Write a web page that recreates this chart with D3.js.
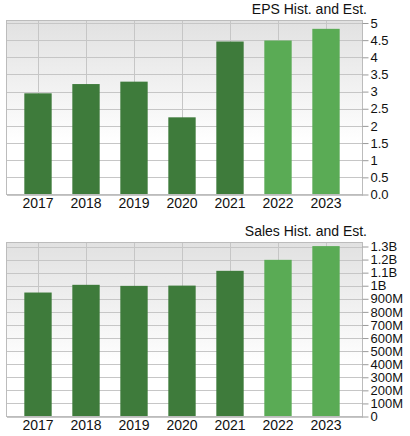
<!DOCTYPE html>
<html lang="en">
<head>
<meta charset="UTF-8">
<title>EPS and Sales Hist. and Est.</title>
<script src="https://d3js.org/d3.v7.min.js"></script>
<style>
    body { margin: 0; background: #fff; }
    text { font-family: "Liberation Sans", Arial, sans-serif; fill: #111; }
    .grid line { stroke: #c6c6c6; stroke-width: 1; shape-rendering: crispEdges; }
</style>
</head>
<body>
<div id="chart"></div>
<script>
    var years = ["2017", "2018", "2019", "2020", "2021", "2022", "2023"];
    var estimated = [false, false, false, false, false, true, true];
    var epsValues = [2.95, 3.22, 3.29, 2.25, 4.46, 4.49, 4.83];
    var salesValues = [948e6, 1007e6, 999e6, 1001e6, 1114e6, 1198e6, 1303e6];
    var epsTicks = [0, 0.5, 1, 1.5, 2, 2.5, 3, 3.5, 4, 4.5, 5];
    var epsTickLabels = ["0.0", "0.5", "1", "1.5", "2", "2.5", "3", "3.5", "4", "4.5", "5"];
    var salesTicks = [0, 1e8, 2e8, 3e8, 4e8, 5e8, 6e8, 7e8, 8e8, 9e8, 1e9, 1.1e9, 1.2e9, 1.3e9];
    var salesTickLabels = ["0", "100M", "200M", "300M", "400M", "500M", "600M", "700M", "800M", "900M", "1B", "1.1B", "1.2B", "1.3B"];

    var W = 410, H = 436;
    var plotLeft = 6.5, plotRight = 362.5;
    var histColor = "#3e7b3b", estColor = "#5aab55";

    var svg = d3.select("#chart").append("svg")
        .attr("width", W)
        .attr("height", H);

    var grad = svg.append("defs").append("linearGradient")
        .attr("id", "bg")
        .attr("x1", 0).attr("y1", 0).attr("x2", 0).attr("y2", 1);
    grad.append("stop").attr("offset", "0%").attr("stop-color", "#e1e1e1");
    grad.append("stop").attr("offset", "70%").attr("stop-color", "#ffffff");

    var x = d3.scaleBand()
        .domain(years)
        .range([14, 350])
        .paddingInner(0.43)
        .paddingOuter(0.215);

    function drawPanel(opt) {
        var y = d3.scaleLinear().domain(opt.domain).range([opt.bottom, opt.zeroTop]);
        var g = svg.append("g");

        g.append("rect")
            .attr("x", plotLeft)
            .attr("y", opt.frameTop)
            .attr("width", plotRight - plotLeft)
            .attr("height", opt.bottom - opt.frameTop)
            .attr("fill", "url(#bg)");

        var grid = g.append("g").attr("class", "grid");
        grid.selectAll(".h")
            .data(opt.ticks)
            .enter().append("line")
            .attr("x1", plotLeft).attr("x2", plotRight)
            .attr("y1", function (d) { return Math.round(y(d)) + 0.5; })
            .attr("y2", function (d) { return Math.round(y(d)) + 0.5; });
        grid.selectAll(".v")
            .data(years)
            .enter().append("line")
            .attr("x1", function (d) { return Math.round(x(d) + x.bandwidth() / 2) + 0.5; })
            .attr("x2", function (d) { return Math.round(x(d) + x.bandwidth() / 2) + 0.5; })
            .attr("y1", opt.frameTop).attr("y2", opt.bottom);

        g.selectAll(".bar")
            .data(opt.values)
            .enter().append("rect")
            .attr("x", function (d, i) { return x(years[i]); })
            .attr("width", x.bandwidth())
            .attr("y", function (d) { return y(d); })
            .attr("height", function (d) { return opt.bottom - y(d); })
            .attr("fill", function (d, i) { return estimated[i] ? estColor : histColor; });

        g.append("rect")
            .attr("x", plotLeft)
            .attr("y", opt.frameTop + 0.5)
            .attr("width", plotRight - plotLeft)
            .attr("height", opt.bottom - opt.frameTop - 0.5)
            .attr("fill", "none")
            .attr("stroke", "#bcbcbc")
            .attr("stroke-width", 1);

        var axis = g.append("g")
            .attr("transform", "translate(" + plotRight + ",0)")
            .call(d3.axisRight(y)
                .tickValues(opt.ticks)
                .tickSize(6)
                .tickPadding(2)
                .tickFormat(function (d, i) { return opt.labels[i]; }));
        axis.select(".domain").remove();
        axis.selectAll("line").attr("stroke", "#9a9a9a");
        axis.selectAll("text")
            .attr("fill", "#111")
            .style("font-family", "'Liberation Sans', Arial, sans-serif")
            .style("font-size", "13px");

        var xAxis = g.append("g")
            .attr("transform", "translate(0," + opt.bottom + ")")
            .call(d3.axisBottom(x).tickSize(0).tickPadding(4));
        xAxis.select(".domain").remove();
        xAxis.selectAll("text")
            .attr("fill", "#111")
            .style("font-family", "'Liberation Sans', Arial, sans-serif")
            .style("font-size", "14px");

        g.append("text")
            .attr("x", 367)
            .attr("y", opt.titleY)
            .attr("text-anchor", "end")
            .style("font-size", "14px")
            .text(opt.title);
    }

    drawPanel({
        title: "EPS Hist. and Est.",
        titleY: 14,
        values: epsValues,
        domain: [0, 5],
        ticks: epsTicks,
        labels: epsTickLabels,
        frameTop: 20,
        zeroTop: 23,
        bottom: 194.5
    });

    drawPanel({
        title: "Sales Hist. and Est.",
        titleY: 236,
        values: salesValues,
        domain: [0, 1.3e9],
        ticks: salesTicks,
        labels: salesTickLabels,
        frameTop: 242,
        zeroTop: 246.5,
        bottom: 416.5
    });
</script>
</body>
</html>
